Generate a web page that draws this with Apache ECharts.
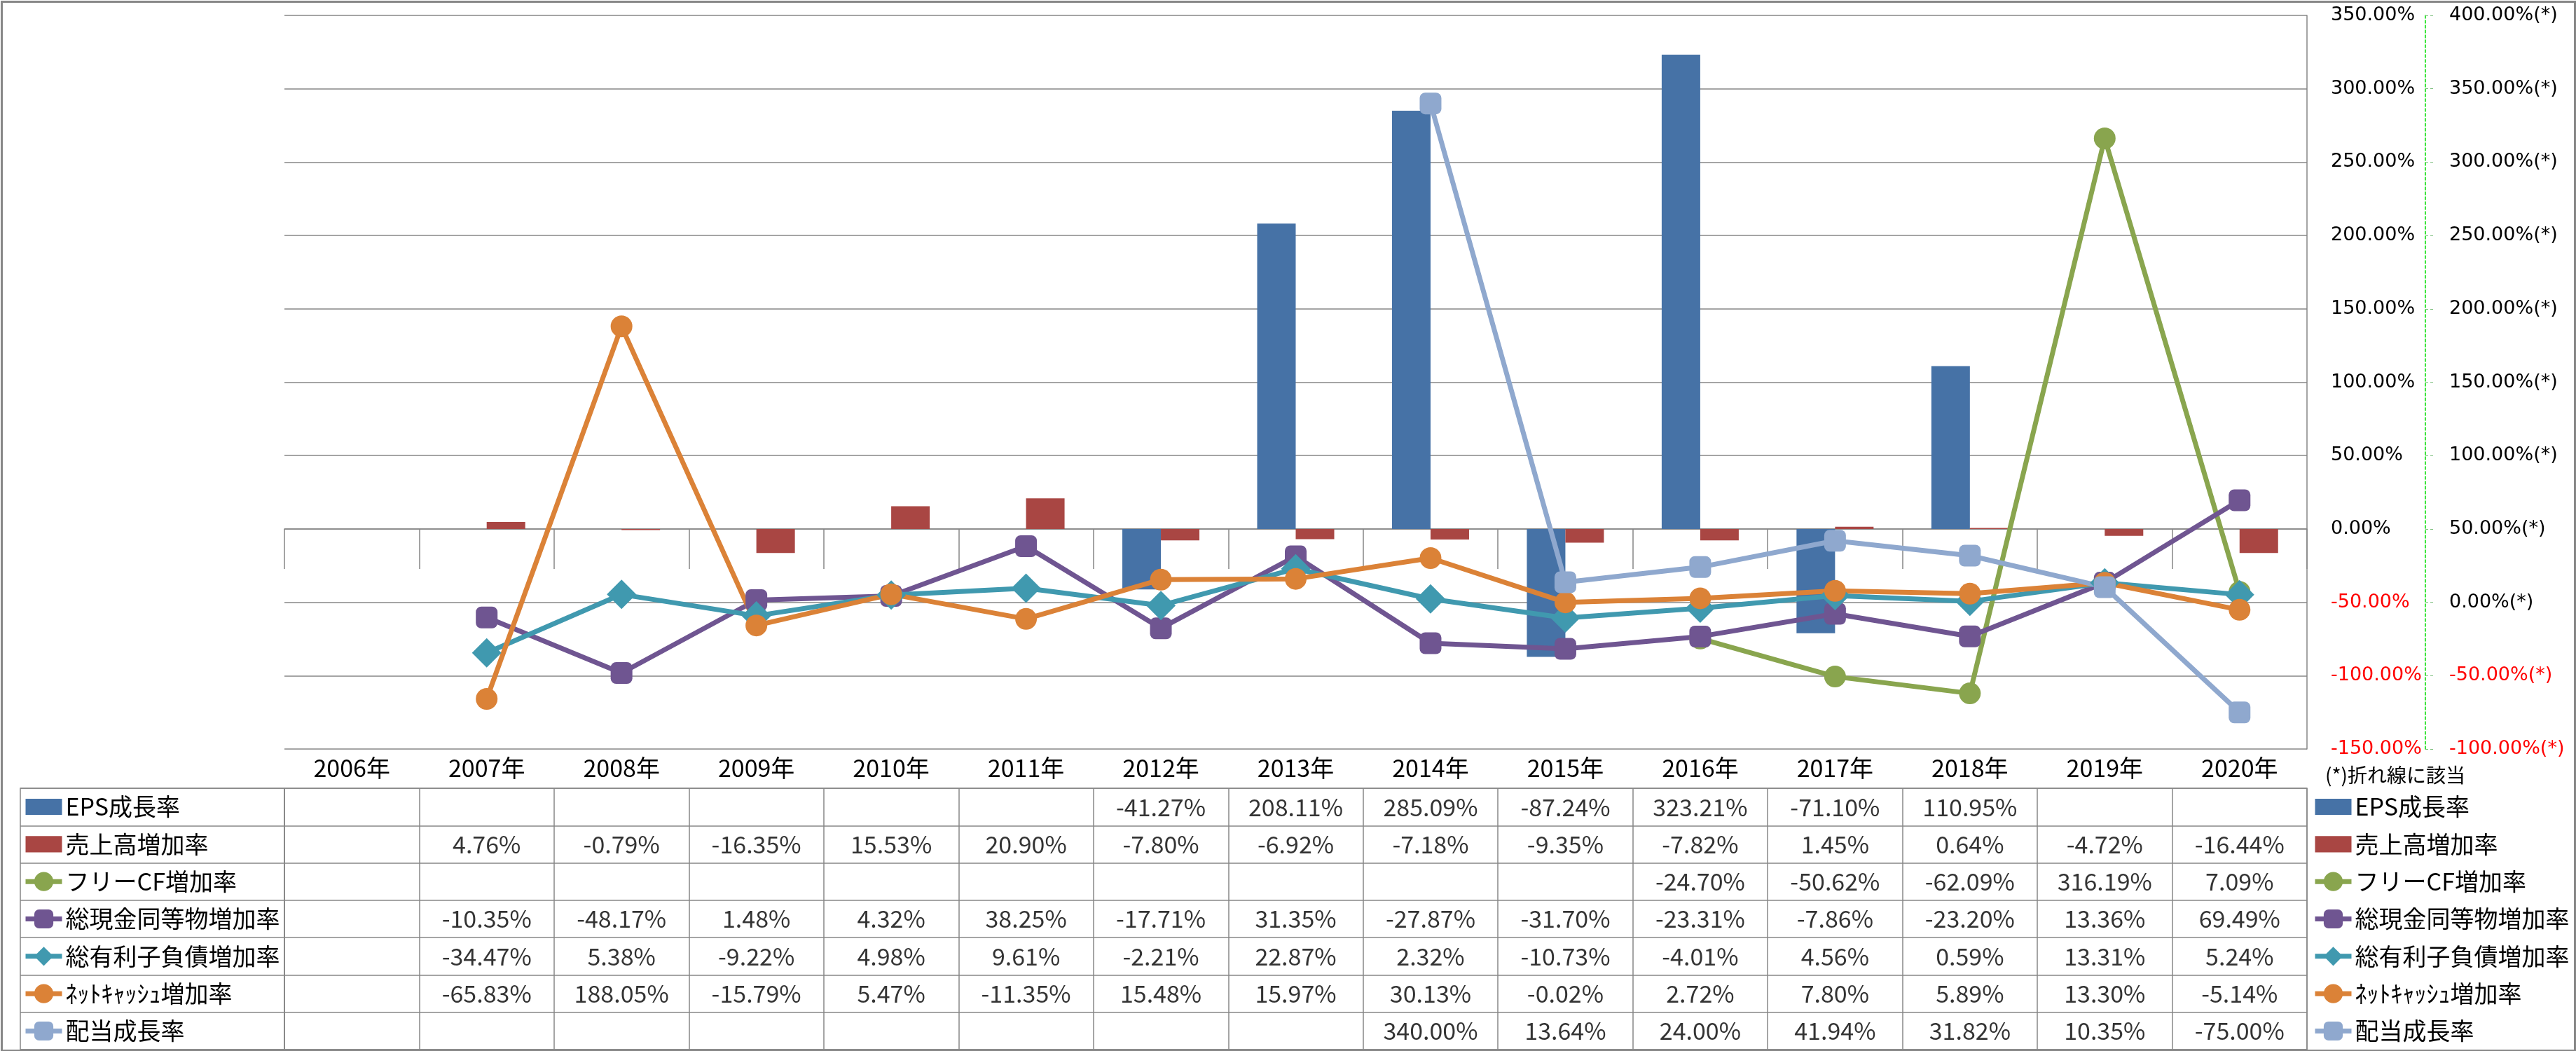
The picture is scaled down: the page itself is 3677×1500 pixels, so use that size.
<!DOCTYPE html>
<html><head><meta charset="utf-8">
<script src="https://cdn.jsdelivr.net/npm/echarts@6/dist/echarts.min.js"></script>
<style>html,body{margin:0;padding:0;background:#fff}#c{width:3677px;height:1500px}</style>
</head><body><div id="c"></div>
<script>
// ---- data ----
const years = ['2006年','2007年','2008年','2009年','2010年','2011年','2012年','2013年','2014年','2015年','2016年','2017年','2018年','2019年','2020年'];
const seriesNames = ['EPS成長率','売上高増加率','フリーCF増加率','総現金同等物増加率','総有利子負債増加率','ﾈｯﾄｷｬｯｼｭ増加率','配当成長率'];
const epsGrowth      = [null,null,null,null,null,null,-41.27,208.11,285.09,-87.24,323.21,-71.10,110.95,null,null];
const salesGrowth    = [null,4.76,-0.79,-16.35,15.53,20.90,-7.80,-6.92,-7.18,-9.35,-7.82,1.45,0.64,-4.72,-16.44];
const freeCfGrowth   = [null,null,null,null,null,null,null,null,null,null,-24.70,-50.62,-62.09,316.19,7.09];
const cashGrowth     = [null,-10.35,-48.17,1.48,4.32,38.25,-17.71,31.35,-27.87,-31.70,-23.31,-7.86,-23.20,13.36,69.49];
const debtGrowth     = [null,-34.47,5.38,-9.22,4.98,9.61,-2.21,22.87,2.32,-10.73,-4.01,4.56,0.59,13.31,5.24];
const netCashGrowth  = [null,-65.83,188.05,-15.79,5.47,-11.35,15.48,15.97,30.13,-0.02,2.72,7.80,5.89,13.30,-5.14];
const dividendGrowth = [null,null,null,null,null,null,null,null,340.00,13.64,24.00,41.94,31.82,10.35,-75.00];
const leftAxisMin = -150, leftAxisMax = 350;
const rightAxisMin = -100, rightAxisMax = 400;
const axisStep = 50;
const noteText = '(*)折れ線に該当';

// ---- styles ----
const colors = ['#4672A6','#A94643','#89A54E','#6F5591','#4099AF','#DB8237','#8FA8CE'];
const symbols = [null,null,'circle','roundRect','diamond','circle','roundRect'];
const symbolSizes = [0,0,31,31,42,31,31];
const gridGray = '#878787';
const jp = '"Noto Sans CJK JP","Noto Sans",sans-serif';
const allRows = [epsGrowth, salesGrowth, freeCfGrowth, cashGrowth, debtGrowth, netCashGrowth, dividendGrowth];

const tableData = [];
allRows.forEach((row, r) => row.forEach((v, c) => { if (v !== null) tableData.push([c, r, v]); }));

const legendItems = seriesNames.map((n, i) => i < 2 ? {name: n, icon: 'path://M0,0H45V20H0Z'} : {name: n});
const legendBase = {
  orient: 'vertical', top: 1134.5, padding: 0, itemGap: 19.33, itemWidth: 52, itemHeight: 34,
  data: legendItems, selectedMode: false,
  lineStyle: {width: 7},
  textStyle: {fontSize: 34, lineHeight: 34, fontFamily: jp, color: '#000'}
};

const series = [];
series.push({name: seriesNames[0], type: 'bar', data: epsGrowth, barWidth: 55, barGap: '0%', itemStyle: {color: colors[0]}});
series.push({name: seriesNames[1], type: 'bar', data: salesGrowth, barWidth: 55, barGap: '0%', itemStyle: {color: colors[1]}});
[2,3,4,5,6].forEach(i => {
  series.push({
    name: seriesNames[i], type: 'line', yAxisIndex: 1, data: allRows[i],
    symbol: symbols[i], symbolSize: symbolSizes[i], showSymbol: true, showAllSymbol: true,
    lineStyle: {width: 7, color: colors[i]}, itemStyle: {color: colors[i]}
  });
});
series.push({
  name: 'table', type: 'scatter', xAxisIndex: 1, yAxisIndex: 2, data: tableData, symbolSize: 2, silent: true,
  itemStyle: {color: 'rgba(255,255,255,0)'},
  label: {show: true, position: 'inside', formatter: p => p.value[2].toFixed(2) + '%',
          fontSize: 34, fontFamily: jp, color: '#000'}
});

const option = {
  animation: false,
  backgroundColor: '#fff',
  title: {text: noteText, left: 3319, top: 1092, padding: 0,
          textStyle: {fontSize: 28, fontWeight: 'normal', fontFamily: jp, color: '#000'}},
  legend: [Object.assign({left: 33}, legendBase), Object.assign({left: 3301}, legendBase)],
  grid: [
    {left: 406, right: 384, top: 22, bottom: 431, outerBoundsMode: 'none', containLabel: false},
    {left: 406, right: 384, top: 1125, bottom: 2, show: true, borderColor: gridGray, borderWidth: 1.5, backgroundColor: 'transparent', outerBoundsMode: 'none', containLabel: false},
    {left: 29, width: 377, top: 1125, bottom: 2, show: true, borderColor: gridGray, borderWidth: 1.5, backgroundColor: 'transparent', outerBoundsMode: 'none', containLabel: false}
  ],
  xAxis: [
    {type: 'category', gridIndex: 0, data: years, boundaryGap: true,
     axisLine: {show: true, lineStyle: {color: gridGray, width: 1.5}},
     axisTick: {show: true, length: 57, interval: 0, lineStyle: {color: gridGray, width: 1.5}},
     axisLabel: {show: true, interval: 0, margin: 27.5, verticalAlign: 'middle', fontSize: 34, fontFamily: jp, color: '#000'},
     splitLine: {show: false}},
    {type: 'category', gridIndex: 1, data: years, boundaryGap: true,
     axisLine: {show: false}, axisTick: {show: false}, axisLabel: {show: false, interval: 0},
     splitLine: {show: true, interval: 0, lineStyle: {color: gridGray, width: 1.5}}},
    {type: 'value', gridIndex: 2, show: false}
  ],
  yAxis: [
    {type: 'value', gridIndex: 0, position: 'right', min: leftAxisMin, max: leftAxisMax, interval: axisStep,
     axisLine: {show: true, lineStyle: {color: gridGray, width: 1.5}},
     axisTick: {show: false},
     axisLabel: {margin: 34, fontSize: 27, fontFamily: '"DejaVu Sans",sans-serif',
                 formatter: v => Number(v).toFixed(2) + '%',
                 color: v => Number(v) < 0 ? '#ff0000' : '#000'},
     splitLine: {show: true, lineStyle: {color: gridGray, width: 1.5}}},
    {type: 'value', gridIndex: 0, position: 'right', offset: 169, min: rightAxisMin, max: rightAxisMax, interval: axisStep,
     axisLine: {show: true, lineStyle: {color: '#00dd00', width: 1.5, type: [4, 3]}},
     axisTick: {show: true, length: 11, lineStyle: {color: '#7fbf7f', width: 1, type: [4, 3]}},
     axisLabel: {margin: 34, fontSize: 27, fontFamily: '"DejaVu Sans",sans-serif',
                 formatter: v => Number(v).toFixed(2) + '%(*)',
                 color: v => Number(v) < 0 ? '#ff0000' : '#000'},
     splitLine: {show: false}},
    {type: 'category', gridIndex: 1, data: seriesNames, inverse: true,
     axisLine: {show: false}, axisTick: {show: false}, axisLabel: {show: false, interval: 0},
     splitLine: {show: true, interval: 0, lineStyle: {color: gridGray, width: 1.5}}},
    {type: 'category', gridIndex: 2, data: seriesNames, inverse: true,
     axisLine: {show: false}, axisTick: {show: false}, axisLabel: {show: false, interval: 0},
     splitLine: {show: true, interval: 0, lineStyle: {color: gridGray, width: 1.5}}}
  ],
  graphic: [{type: 'rect', left: 0, top: 0, silent: true, z: 100,
             shape: {x: 1, y: 1, width: 3673, height: 1497},
             style: {fill: 'none', stroke: gridGray, lineWidth: 3}}],
  series: series
};
const chart = echarts.init(document.getElementById('c'), null, {renderer: 'canvas'});
chart.setOption(option);
</script>
</body></html>
